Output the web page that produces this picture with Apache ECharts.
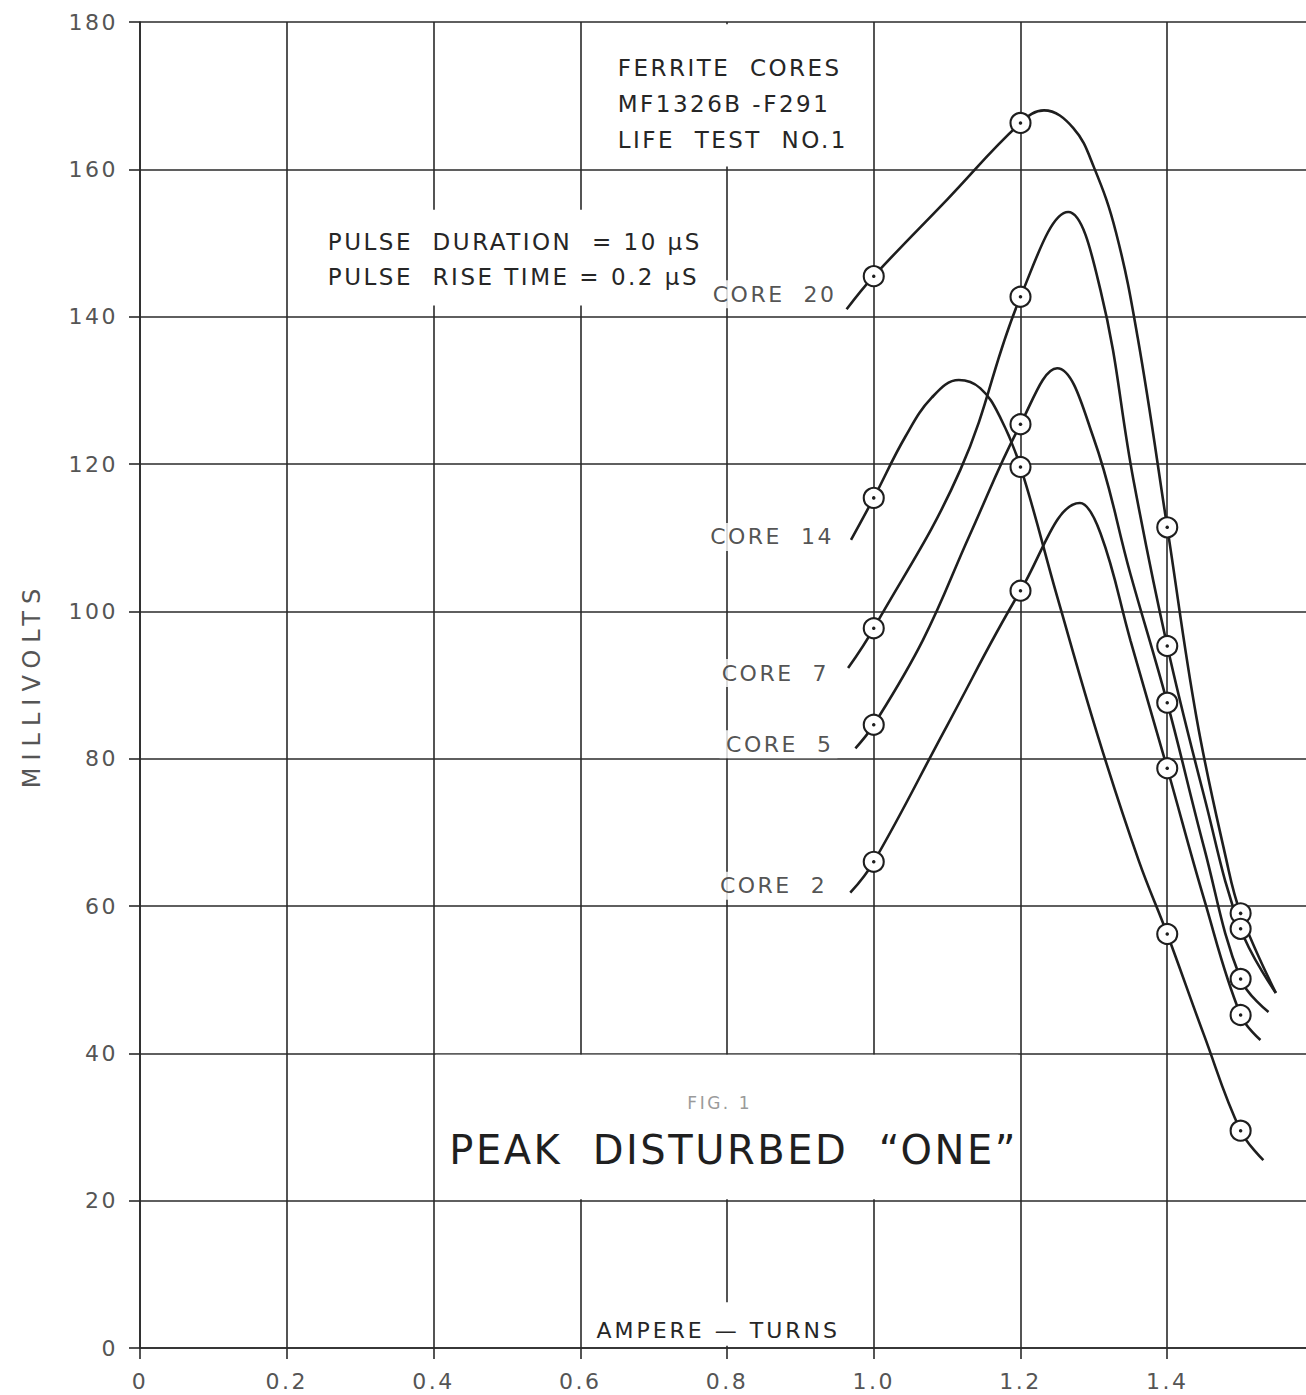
<!DOCTYPE html>
<html lang="en">
<head>
<meta charset="UTF-8">
<title>Peak Disturbed One</title>
<script src="https://cdn.jsdelivr.net/npm/echarts@6/dist/echarts.min.js"></script>
<style>
    html, body { margin: 0; padding: 0; background: #fff; }
    #container { width: 1306px; height: 1395px; }
    /* lettering-guide look: wide spaced capitals */
    #container text { letter-spacing: 2.5px; }
</style>
</head>
<body>
<div id="container"></div>
<script>
    // core names, in drawing order
    var coreNames = ['CORE 20', 'CORE 14', 'CORE 7', 'CORE 5', 'CORE 2'];

    // measured points (the circles), [ampere-turns, millivolts]
    var pts20 = [[1.0, 145.5], [1.2, 166.3], [1.4, 111.4], [1.5, 59.0]];
    var pts14 = [[1.0, 115.4], [1.2, 119.6], [1.4, 56.2], [1.5, 29.5]];
    var pts7  = [[1.0, 97.7], [1.2, 142.7], [1.4, 95.3], [1.5, 56.9]];
    var pts5  = [[1.0, 84.6], [1.2, 125.4], [1.4, 87.6], [1.5, 50.1]];
    var pts2  = [[1.0, 66.0], [1.2, 102.8], [1.4, 78.7], [1.5, 45.2]];

    // hand drawn curves
    var curve20 = [[0.963, 141.0], [1.0, 145.5], [1.1, 155.9], [1.2, 166.3], [1.232, 168.0],
        [1.272, 165.6], [1.3, 160.3], [1.33, 151.5], [1.36, 137.0], [1.4, 111.4], [1.44, 85.5],
        [1.48, 66.5], [1.5, 59.0], [1.548, 48.2]];
    var curve14 = [[0.969, 109.7], [1.0, 115.4], [1.043, 123.7], [1.079, 129.0], [1.116, 131.4],
        [1.145, 130.3], [1.172, 126.4], [1.2, 119.6], [1.25, 102.0], [1.306, 82.9], [1.361, 66.2],
        [1.4, 56.2], [1.45, 42.5], [1.5, 29.5], [1.531, 25.5]];
    var curve7 = [[0.965, 92.3], [1.0, 97.7], [1.118, 119.2], [1.2, 142.7], [1.265, 154.2],
        [1.309, 143.6], [1.354, 117.8], [1.4, 95.3], [1.45, 75.0], [1.5, 56.9], [1.548, 48.2]];
    var curve5 = [[0.975, 81.4], [1.0, 84.6], [1.067, 96.1], [1.131, 110.4], [1.2, 125.4],
        [1.25, 133.0], [1.299, 123.7], [1.35, 105.0], [1.4, 87.6], [1.45, 68.0], [1.5, 50.1],
        [1.538, 45.6]];
    var curve2 = [[0.968, 61.8], [1.0, 66.0], [1.1, 84.5], [1.2, 102.8], [1.281, 114.7],
        [1.309, 110.6], [1.35, 96.0], [1.4, 78.7], [1.45, 61.0], [1.5, 45.2], [1.527, 41.8]];

    var allPts = [pts20, pts14, pts7, pts5, pts2];
    var allCurves = [curve20, curve14, curve7, curve5, curve2];

    var ink = '#1e1e1e';
    var font = 'DejaVu Sans';
    // nudges of the core labels relative to the curve start
    var labelShift = [[0, -15], [-7, -3], [-9, 5], [-12, -4], [-13, -7]];
    // wider spacing for a few words (svg text, set after drawing)
    var extraSpacing = {'MILLIVOLTS': '7px', 'AMPERE \u2014 TURNS': '3px'};

    function note(coord, text, size, pos, extra) {
        var label = {
            show: true, position: pos, distance: 0, formatter: text,
            fontFamily: font, fontSize: size, color: '#262626'
        };
        for (var k in extra) label[k] = extra[k];
        return {coord: coord, symbol: 'circle', symbolSize: 0, label: label};
    }

    var series = [];

    // white patches on the grid plus the lettering
    series.push({
        type: 'line',
        data: [],
        z: 1,
        silent: true,
        markArea: {
            silent: true,
            itemStyle: {color: '#fff', opacity: 1},
            label: {show: false},
            data: [
                [{coord: [0.603, 179.7]}, {coord: [0.985, 160.4]}],
                [{coord: [0.24, 154.5]}, {coord: [0.775, 141.5]}],
                [{coord: [0.403, 39.8]}, {coord: [1.197, 20.2]}],
                [{coord: [0.603, 6.2]}, {coord: [0.97, 0.3]}]
            ]
        },
        markPoint: {
            silent: true,
            animation: false,
            data: [
                note([0.651, 168.9], 'FERRITE  CORES\nMF1326B -F291\nLIFE  TEST  NO.1', 23, 'right', {lineHeight: 36}),
                note([0.256, 147.75], 'PULSE  DURATION  = 10 \u03bcS\nPULSE  RISE TIME = 0.2 \u03bcS', 23, 'right', {lineHeight: 35}),
                note([0.79, 33.3], 'FIG. 1', 17, 'inside', {color: '#9a9a9a'}),
                note([0.809, 26.9], 'PEAK  DISTURBED  \u201CONE\u201D', 40, 'inside', {color: '#1f1f1f'}),
                note([0.788, 2.4], 'AMPERE \u2014 TURNS', 22, 'inside', {})
            ]
        }
    });

    allCurves.forEach(function (c, i) {
        series.push({
            name: coreNames[i],
            type: 'line',
            data: c,
            z: 3,
            smooth: 0.4,
            showSymbol: false,
            silent: true,
            lineStyle: {color: ink, width: 2.6}
        });
    });

    allPts.forEach(function (p, i) {
        series.push({
            name: coreNames[i] + ' pts',
            type: 'scatter',
            data: p,
            z: 4,
            symbol: 'circle',
            symbolSize: 20,
            silent: true,
            itemStyle: {color: '#fff', borderColor: ink, borderWidth: 2.1, opacity: 1}
        });
        series.push({
            type: 'scatter',
            data: p,
            z: 5,
            symbolSize: 3.5,
            silent: true,
            itemStyle: {color: ink, opacity: 1}
        });
    });

    // curve labels, hung on the start of each curve
    series.push({
        type: 'scatter',
        z: 6,
        symbolSize: 0,
        silent: true,
        data: allCurves.map(function (c, i) {
            return {
                value: c[0],
                label: {
                    show: true, position: 'left', distance: 6,
                    offset: labelShift[i],
                    formatter: coreNames[i].replace(' ', '  '),
                    fontFamily: font, fontSize: 22, color: '#262626',
                    backgroundColor: '#fff', padding: [3, 4, 3, 24]
                }
            };
        })
    });

    var chart = echarts.init(document.getElementById('container'), null, {renderer: 'svg'});
    chart.on('finished', function () {
        var texts = document.querySelectorAll('#container text');
        for (var i = 0; i < texts.length; i++) {
            var sp = extraSpacing[texts[i].textContent];
            if (sp) texts[i].style.letterSpacing = sp;
        }
    });
    chart.setOption({
        animation: false,
        backgroundColor: '#fff',
        grid: {left: 140, right: -8, top: 22, bottom: 47, outerBoundsMode: 'none'},
        xAxis: {
            type: 'value', min: 0, max: 1.6, interval: 0.2,
            axisLine: {lineStyle: {color: '#2a2a2a', width: 1.6}},
            axisTick: {length: 11, lineStyle: {color: '#2a2a2a', width: 1.6}},
            splitLine: {lineStyle: {color: '#2a2a2a', width: 1.6}},
            axisLabel: {
                margin: 22, fontFamily: font, fontSize: 22, color: '#555', showMaxLabel: false,
                formatter: function (v) { return v === 0 ? '0' : v.toFixed(1); }
            }
        },
        yAxis: {
            type: 'value', min: 0, max: 180, interval: 20,
            name: 'MILLIVOLTS', nameLocation: 'middle', nameGap: 96,
            nameTextStyle: {fontFamily: font, fontSize: 24, color: '#555'},
            axisLine: {lineStyle: {color: '#2a2a2a', width: 1.6}},
            axisTick: {length: 11, lineStyle: {color: '#2a2a2a', width: 1.6}},
            splitLine: {lineStyle: {color: '#2a2a2a', width: 1.6}},
            axisLabel: {margin: 22, fontFamily: font, fontSize: 22, color: '#555'}
        },
        series: series
    });
</script>
</body>
</html>
